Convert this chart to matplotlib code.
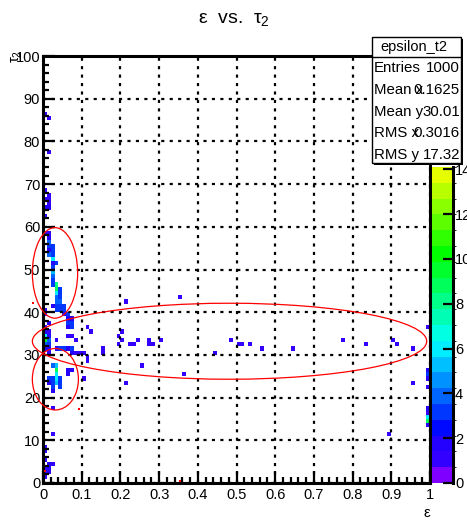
import numpy as np
import matplotlib
matplotlib.use("Agg")
import matplotlib.pyplot as plt
from matplotlib.colors import ListedColormap, BoundaryNorm, hsv_to_rgb
from matplotlib.patches import Ellipse, Rectangle

plt.rcParams["font.family"] = ["Liberation Sans", "DejaVu Sans"]
plt.rcParams["mathtext.fontset"] = "custom"
plt.rcParams["mathtext.rm"] = "Liberation Sans"
plt.rcParams["mathtext.it"] = "Liberation Sans"
plt.rcParams["mathtext.bf"] = "Liberation Sans:bold"

# ---- histogram binning (100 x 100) ----
n_x, x_lo, x_hi = 100, 0.0, 1.0
n_y, y_lo, y_hi = 100, 0.0, 100.0
z_max = 14.1

# ---- filled bins: epsilon bin, tau2 bin, entries ----
eps_bin = [0, 1, 1, 0, 1, 1, 0, 1, 0, 1, 0,
           0, 1, 1, 1, 1, 2, 2, 1, 1, 2, 2, 3, 2, 2, 2, 2, 2, 2, 3,
           3, 3, 3, 3, 4, 4, 4, 3, 4, 3, 4, 5, 2, 3, 4, 5, 0, 0, 5, 6,
           6, 7, 6, 7, 6, 7, 0, 1,
           0, 1, 0, 1, 0, 1, 0, 1, 0, 1, 3, 3, 4, 5, 6, 7, 7, 6, 8, 8,
           7, 9, 10, 11, 11, 11, 12, 1,
           2, 3, 3, 3, 1, 2, 1, 2, 3, 3, 4, 4, 4, 2, 2, 6, 7, 6,
           2, 2, 0, 0, 0, 1, 2, 1, 0, 0, 1, 0,
           35, 21, 20, 19, 20, 19, 22, 23, 24, 27, 27, 28, 30, 48, 50, 51,
           53, 56, 64, 77, 83, 90, 91, 95, 99, 44, 36, 25, 21, 95, 15, 15,
           10, 89,
           99, 99, 99, 99, 99, 99, 99, 99, 99]
tau_bin = [86, 85, 77, 68, 67, 66, 66, 65, 64, 64, 62,
           58, 58, 57, 56, 55, 55, 54, 54, 53, 52, 53, 51, 51, 50, 49, 48, 47, 46, 46,
           46, 45, 44, 43, 45, 44, 43, 42, 42, 41, 41, 41, 41, 40, 40, 40, 40, 39, 39, 39,
           38, 38, 37, 37, 36, 36, 36, 37,
           35, 35, 34, 34, 33, 33, 32, 32, 31, 31, 33, 31, 31, 31, 31, 31, 30, 34, 33, 30,
           34, 30, 30, 29, 28, 36, 35, 30,
           27, 27, 26, 25, 24, 24, 23, 23, 24, 23, 24, 23, 22, 22, 21, 26, 26, 25,
           17, 11, 8, 7, 5, 4, 4, 3, 3, 2, 2, 1,
           43, 42, 35, 34, 33, 32, 32, 32, 33, 33, 32, 32, 33, 33, 32, 32,
           32, 31, 31, 33, 32, 33, 32, 31, 36, 30, 25, 27, 23, 23, 31, 30,
           24, 11,
           26, 25, 24, 22, 17, 16, 15, 14, 13]
entries = [1, 1, 1, 1, 1, 1, 1, 1, 2, 2, 1,
           1, 1, 2, 4, 3, 3, 3, 2, 4, 6, 3, 3, 2, 3, 5, 4, 3, 3, 5,
           3, 9, 6, 4, 3, 3, 3, 4, 4, 3, 3, 3, 2, 3, 3, 3, 1, 2, 2, 3,
           2, 2, 3, 3, 2, 3, 1, 2,
           2, 1, 6, 2, 10, 4, 4, 3, 2, 2, 1, 2, 3, 3, 2, 3, 2, 1, 1, 1,
           1, 1, 1, 1, 1, 1, 1, 1,
           4, 5, 9, 6, 3, 3, 2, 3, 6, 5, 3, 3, 3, 3, 2, 2, 2, 2,
           1, 1, 1, 1, 1, 2, 1, 2, 1, 2, 1, 1,
           1, 1, 1, 1, 1, 1, 1, 1, 1, 1, 1, 1, 1, 1, 1, 1,
           1, 1, 1, 1, 1, 1, 1, 1, 1, 1, 1, 1, 1, 1, 1, 1,
           1, 1,
           2, 3, 2, 1, 2, 1, 6, 9, 2]

stat_names = ["Entries", "Mean x", "Mean y", "RMS x", "RMS y"]
stat_values = ["1000", "0.1625", "30.01", "0.3016", "17.32"]
hist_name = "epsilon_t2"

# ---- fill the 2D histogram ----
H = np.zeros((n_y, n_x))
np.add.at(H, (np.array(tau_bin), np.array(eps_bin)), np.array(entries))
H = np.ma.masked_where(H <= 0, H)
x_edges = np.linspace(x_lo, x_hi, n_x + 1)
y_edges = np.linspace(y_lo, y_hi, n_y + 1)

# 20-level rainbow palette, violet -> yellow
n_lev = 20
hues = np.linspace(270, 66, n_lev)
hues[1] = 252
hues = hues / 360.0
pal = ListedColormap(hsv_to_rgb(np.column_stack([hues, np.ones(n_lev), np.ones(n_lev)])))
norm = BoundaryNorm(np.linspace(0, z_max, n_lev + 1), n_lev)

W, Hpx = 467, 520
fig = plt.figure(figsize=(W / 100, Hpx / 100), dpi=100)


def fx(px):
    return px / W


def fy(py):
    return 1 - py / Hpx


ax = fig.add_axes([fx(43), fy(483), fx(430) - fx(43), fy(56) - fy(483)])
mesh = ax.pcolormesh(x_edges, y_edges, H, cmap=pal, norm=norm, zorder=1)

ax.set_xlim(x_lo, x_hi)
ax.set_ylim(y_lo, y_hi)
ax.set_xticks(np.arange(0, 1.01, 0.1))
ax.set_xticklabels(["0"] + [f"{v:.1f}" for v in np.arange(0.1, 0.95, 0.1)] + ["1"])
ax.set_xticks(np.arange(0, 1.001, 0.02), minor=True)
ax.set_yticks(np.arange(0, 101, 10))
ax.set_yticks(np.arange(0, 101, 2), minor=True)
ax.tick_params(which="both", direction="in", top=False, right=False, labelsize=10.5)
ax.tick_params(which="major", length=8.5, width=1.6)
ax.tick_params(which="minor", length=4.3, width=1.6)
ax.tick_params(axis="x", pad=3.5)
ax.tick_params(axis="y", pad=2)
for s in ax.spines.values():
    s.set_linewidth(2.2)

# dotted grid on top of the cells
ax.set_axisbelow(False)
ax.grid(True, which="major", color="black", linewidth=1.6, linestyle=(0, (1.4, 2.4)))

# hand-drawn red ellipses
for (cx, cy, w, h) in [(0.031, 49.2, 0.117, 21.2), (0.032, 24.3, 0.119, 14.4),
                       (0.482, 33.2, 1.019, 17.8)]:
    ax.add_patch(Ellipse((cx, cy), w, h, fill=False, ec="red", lw=0.9,
                         clip_on=False, zorder=5))
ax.plot([0.354, 0.006, 0.093, -0.026], [0.5, 2.8, 17.3, 42.2], "s", color="red",
        ms=1.6, mew=0, clip_on=False, zorder=5)

# palette axis
cax = fig.add_axes([fx(432), fy(483), fx(453) - fx(432), fy(167) - fy(483)])
cb = fig.colorbar(mesh, cax=cax, ticks=np.arange(0, 15, 2))
cb.outline.set_visible(False)
cax.yaxis.set_ticks_position("right")
cax.tick_params(direction="in", length=7, width=1.6, pad=1.5, labelsize=10.5)
cax.plot([1, 1], [0, 1], transform=cax.transAxes, color="black", lw=2.2, clip_on=False)

# titles
fig.text(fx(234), fy(19), "ε  vs.  $\\tau_{2}$", ha="center", va="center", fontsize=14)
fig.text(fx(17), fy(50), "$\\tau_{2}$", rotation=90, ha="center", va="top", fontsize=10.5)
fig.text(fx(430), fy(513), "ε", ha="right", va="center", fontsize=11)

# statistics box
bx0, bx1, by0, by1 = 372, 461, 37, 163
fig.patches.append(Rectangle((fx(bx0 + 2), fy(by1 + 2)), fx(bx1) - fx(bx0), fy(by0) - fy(by1),
                             transform=fig.transFigure, fc="black", ec="none", zorder=9))
fig.patches.append(Rectangle((fx(bx0), fy(by1)), fx(bx1) - fx(bx0), fy(by0) - fy(by1),
                             transform=fig.transFigure, fc="white", ec="black", lw=1.0,
                             zorder=10))
fig.lines.append(plt.Line2D([fx(bx0), fx(bx1)], [fy(57), fy(57)], transform=fig.transFigure,
                            color="black", lw=1.0, zorder=11))
fig.text(fx(414), fy(47), hist_name, ha="center", va="center", fontsize=10.5, zorder=12)
for i, (name, val) in enumerate(zip(stat_names, stat_values)):
    yy = fy(68 + i * 21.8)
    fig.text(fx(374), yy, name, ha="left", va="center", fontsize=10.8, zorder=12)
    fig.text(fx(460), yy, val, ha="right", va="center", fontsize=10.8, zorder=12)

fig.savefig("out.png", dpi=100)
